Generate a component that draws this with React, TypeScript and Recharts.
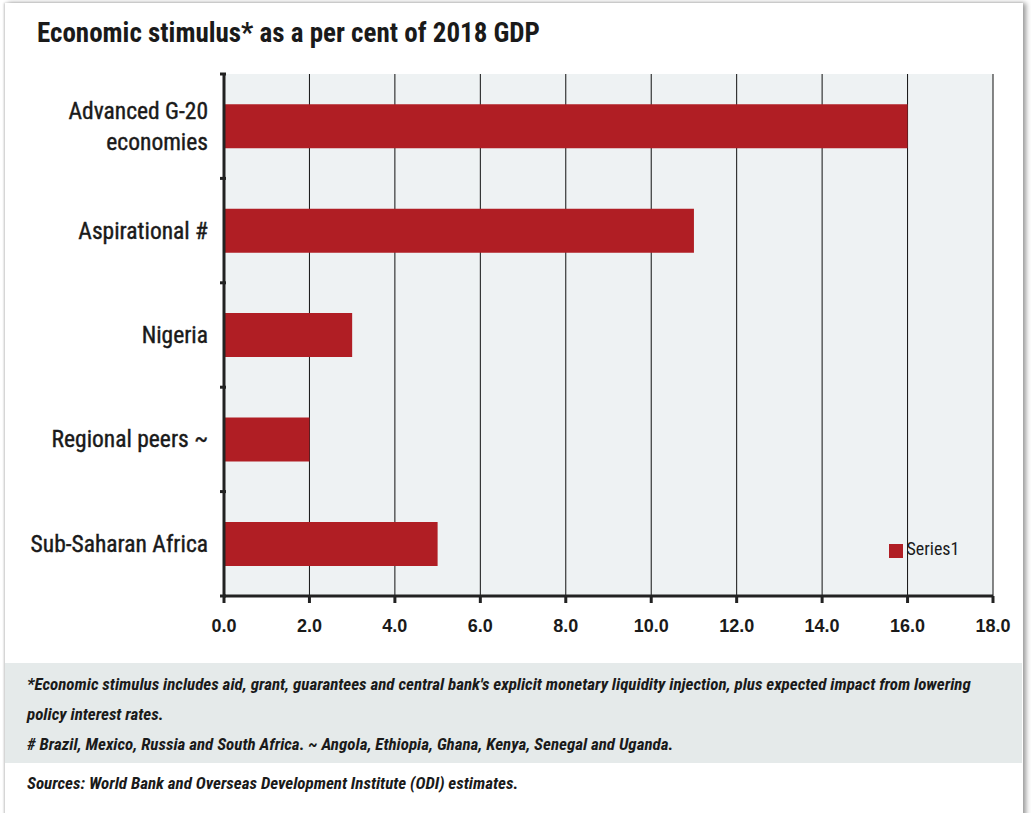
import { BarChart, Bar, XAxis, YAxis, CartesianGrid, Legend } from 'recharts';

const categories = ['Advanced G-20 economies', 'Aspirational #', 'Nigeria', 'Regional peers ~', 'Sub-Saharan Africa'];
const stimulus = [16.0, 11.0, 3.0, 2.0, 5.0];
const xTicks = [0, 2, 4, 6, 8, 10, 12, 14, 16, 18];
const labelLines: Record<string, string[]> = {
  'Advanced G-20 economies': ['Advanced G-20', 'economies'],
};

const data = categories.map((name, i) => ({ name, Series1: stimulus[i] }));

const narrow = '"Liberation Sans Narrow", "Roboto Condensed", "Arial Narrow", "Liberation Sans", sans-serif';
const RED = '#b01e24';

function CategoryTick(props: any) {
  const { x, y, payload, index } = props;
  const lines = labelLines[payload.value] || [payload.value];
  const half = payload.offset || 52;
  const ax = x + 10;
  return (
    <g>
      <line x1={ax - 6} x2={ax} y1={y - half} y2={y - half} stroke="#222" strokeWidth={3} />
      {index === categories.length - 1 && (
        <line x1={ax - 6} x2={ax} y1={y + half} y2={y + half} stroke="#222" strokeWidth={3} />
      )}
      <text x={x - 8} y={y} textAnchor="end" fontFamily={narrow} fontSize={23.5} fill="#1a1a1a" stroke="#1a1a1a" strokeWidth={0.4}>
        {lines.map((l, i) => (
          <tspan key={l} x={x - 8} dy={i === 0 ? (lines.length === 1 ? 8 : -7.5) : 31}>
            {l}
          </tspan>
        ))}
      </text>
    </g>
  );
}

export default function App() {
  return (
    <div style={{ position: 'absolute', left: 0, top: 0, width: 1031, height: 813, background: '#fff', overflow: 'hidden' }}>
      <div
        style={{
          position: 'absolute',
          left: 5,
          top: 3,
          width: 1018,
          height: 820,
          background: '#fff',
          boxShadow: '3px 0 5px #999, -1px 0 2px #ccc',
        }}
      />
      <div
        style={{
          position: 'absolute',
          left: 37,
          top: 17,
          fontFamily: narrow,
          fontWeight: 'bold',
          fontSize: 27,
          color: '#1a1a1a',
        }}
      >
        Economic stimulus* as a per cent of 2018 GDP
      </div>
      <div style={{ position: 'absolute', left: 0, top: 0 }}>
        <BarChart
          width={1031}
          height={650}
          data={data}
          layout="vertical"
          margin={{ top: 74, right: 38, bottom: 0, left: 10 }}
          barCategoryGap="29%"
        >
          <CartesianGrid horizontal={false} stroke="#111" strokeWidth={1} fill="#eef2f3" />
          <XAxis
            type="number"
            domain={[0, 18]}
            ticks={xTicks}
            tickFormatter={(v: number) => v.toFixed(1)}
            axisLine={{ stroke: '#222', strokeWidth: 3 }}
            tickLine={{ stroke: '#222', strokeWidth: 3 }}
            tickSize={7}
            tick={{ fontFamily: '"Liberation Sans", Arial, sans-serif', fontWeight: 'bold', fontSize: 18, fill: '#1a1a1a', dy: 14 }}
            height={54}
          />
          <YAxis
            type="category"
            dataKey="name"
            width={214}
            axisLine={{ stroke: '#222', strokeWidth: 3 }}
            tickLine={false}
            tick={<CategoryTick />}
            interval={0}
          />
          <Legend
            layout="horizontal"
            align="center"
            verticalAlign="middle"
            iconType="square"
            iconSize={14}
            wrapperStyle={{ left: 879, top: 538, width: 100 }}
            formatter={(v: string) => (
              <span style={{ color: '#1a1a1a', fontFamily: narrow, fontSize: 18 }}>{v}</span>
            )}
          />
          <Bar dataKey="Series1" fill={RED} isAnimationActive={false} />
        </BarChart>
      </div>
      <div
        style={{
          position: 'absolute',
          left: 5,
          top: 663,
          width: 1017,
          height: 100,
          background: '#e5eaea',
        }}
      />
      <div
        style={{
          position: 'absolute',
          left: 27,
          top: 669,
          fontFamily: narrow,
          fontStyle: 'italic',
          fontWeight: 'bold',
          fontSize: 17,
          lineHeight: '30px',
          color: '#1a1a1a',
          whiteSpace: 'nowrap',
        }}
      >
        <div>*Economic stimulus includes aid, grant, guarantees and central bank's explicit monetary liquidity injection, plus expected impact from lowering</div>
        <div>policy interest rates.</div>
        <div># Brazil, Mexico, Russia and South Africa. ~ Angola, Ethiopia, Ghana, Kenya, Senegal and Uganda.</div>
        <div style={{ marginTop: 9 }}>Sources: World Bank and Overseas Development Institute (ODI) estimates.</div>
      </div>
    </div>
  );
}
